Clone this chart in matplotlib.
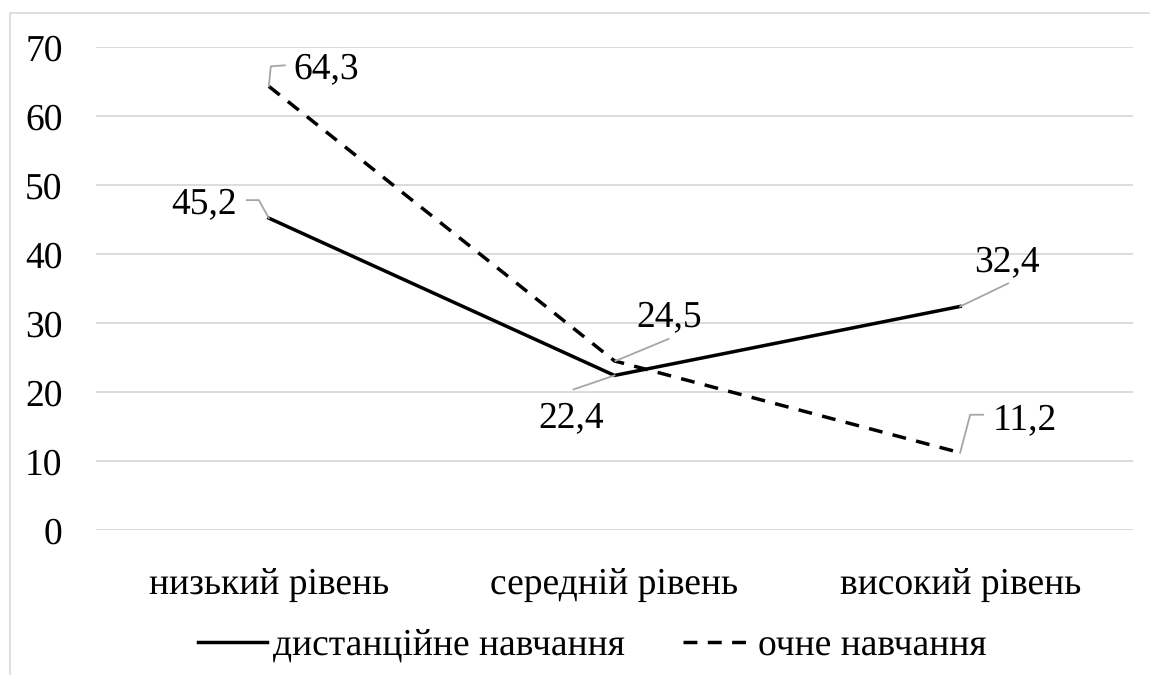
import matplotlib.pyplot as plt
from matplotlib.patches import Rectangle
from matplotlib.transforms import IdentityTransform
import numpy as np

plt.rcParams["font.family"] = ["Liberation Serif", "DejaVu Serif"]
plt.rcParams["text.hinting"] = "no_hinting"

levels = ["низький рівень", "середній рівень", "високий рівень"]
distance = [45.2, 22.4, 32.4]
fulltime = [64.3, 24.5, 11.2]
series_names = ["дистанційне навчання", "очне навчання"]
yticks = [0, 10, 20, 30, 40, 50, 60, 70]

FS = 27
GRID = "#d9d9d9"
LEADER = "#a6a6a6"

fig = plt.figure(figsize=(11.5, 6.75), dpi=100)
ax = fig.add_axes([96 / 1150, 1 - 530 / 675, (1133 - 96) / 1150, (530 - 47) / 675])

x = np.arange(len(levels))
ax.plot(x, distance, color="black", lw=2.5, solid_joinstyle="miter",
        label=series_names[0])
ax.plot(x, fulltime, color="black", lw=2.5, dashes=(4.0, 3.0),
        dash_capstyle="butt", label=series_names[1])

ax.set_xlim(-0.5, 2.5)
ax.set_ylim(0, 70)
ax.set_yticks(yticks)
ax.set_yticklabels([str(v) for v in yticks], fontsize=FS)
ax.set_xticks(x)
ax.set_xticklabels(levels, fontsize=FS)
ax.tick_params(axis="y", length=0, pad=24)
ax.tick_params(axis="x", length=0, pad=27)
ax.grid(axis="y", color=GRID, lw=1.3)
ax.set_axisbelow(True)
for s in ax.spines.values():
    s.set_visible(False)

# outer chart frame (runs off the right and bottom edges)
fig.patches.append(Rectangle((9.5 / 1150, -0.1), 1.2, 1.1 - 12.5 / 675,
                             transform=fig.transFigure, fill=False,
                             edgecolor=GRID, lw=1.2))

# data labels: (series, index, leader vertices in px from the point,
#               text anchor offset in px, horizontal alignment)
labels = [
    (fulltime, 0, [(0, 0), (2, -20), (16, -21)], (25, -7), "left"),
    (distance, 0, [(0, 0), (-10, -18), (-22, -18)], (-32, -4), "right"),
    (fulltime, 1, [(1, 0), (54, -22)], (22, -34), "left"),
    (distance, 1, [(0, 0), (-41, 14)], (-43, 53), "center"),
    (distance, 2, [(0, 0), (48, -23)], (47, -34), "center"),
    (fulltime, 2, [(0, 0), (10, -38), (23, -38)], (33, -23), "left"),
]
for vals, i, verts, (tx, ty), ha in labels:
    px, py = ax.transData.transform((x[i], vals[i]))
    vx = [px + dx for dx, dy in verts]
    vy = [py - dy for dx, dy in verts]
    fig.add_artist(plt.Line2D(vx, vy, transform=IdentityTransform(),
                              color=LEADER, lw=1.3))
    ax.annotate(f"{vals[i]:.1f}".replace(".", ","), (x[i], vals[i]),
                xytext=(tx, -ty), textcoords="offset pixels",
                ha=ha, va="baseline", fontsize=FS)

leg = fig.legend(loc="center", bbox_to_anchor=(0.5 + 17 / 1150, 1 - 646 / 675),
                 ncol=2, frameon=False, fontsize=FS, handlelength=1.85,
                 handletextpad=0.15, columnspacing=1.55)

fig.savefig("out.png", dpi=100)
